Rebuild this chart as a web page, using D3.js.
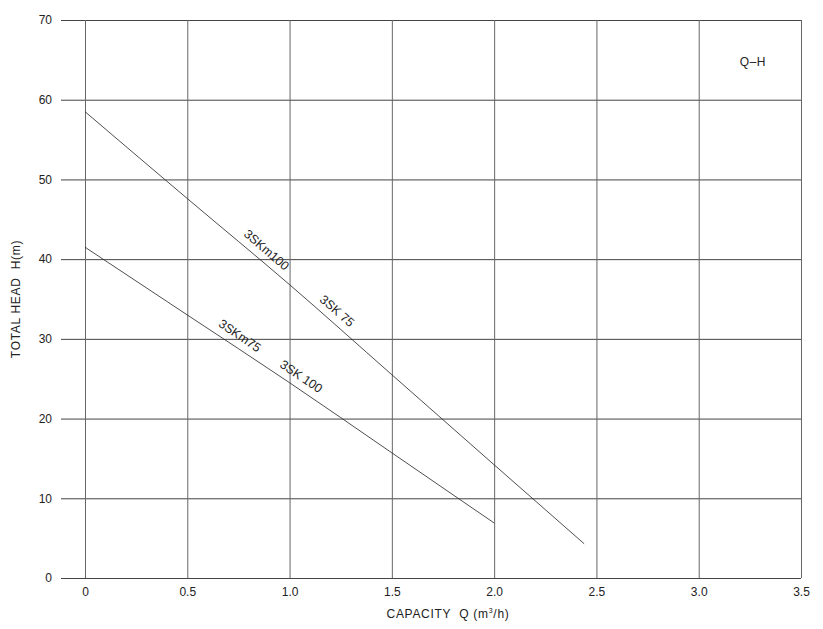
<!DOCTYPE html>
<html>
<head>
<meta charset="utf-8">
<script src="https://cdn.jsdelivr.net/npm/d3@7"></script>
<style>
  body { margin: 0; background: #fff; }
  text { font-family: "Liberation Sans", Arial, sans-serif; fill: #222; }
</style>
</head>
<body>
<div id="chart"></div>
<script>
// Q-H curves
var qUpper = [0, 0.5, 1.0, 1.5, 2.0, 2.44];
var hUpper = [58.5, 47.6, 36.8, 25.5, 14.2, 4.3];
var qLower = [0, 0.5, 1.0, 1.5, 2.0];
var hLower = [41.5, 33.0, 24.5, 15.7, 6.9];

var xTicks = [0, 0.5, 1.0, 1.5, 2.0, 2.5, 3.0, 3.5];
var yTicks = [0, 10, 20, 30, 40, 50, 60, 70];

// curve labels: name, position along the curve (Q), which curve
var labelNames = ["3SKm100", "3SK 75", "3SKm75", "3SK 100"];
var labelQ = [0.85, 1.195, 0.725, 1.025];
var labelCurve = ["upper", "upper", "lower", "lower"];

var margin = { top: 20, right: 22, bottom: 51, left: 85 },
  width = 823 - margin.left - margin.right,
  height = 629 - margin.top - margin.bottom;

var x = d3.scaleLinear().domain([0, 3.5]).range([0, width]);
var y = d3.scaleLinear().domain([0, 70]).range([height, 0]);

var svg = d3
  .select("#chart")
  .append("svg")
  .attr("width", width + margin.left + margin.right)
  .attr("height", height + margin.top + margin.bottom)
  .append("g")
  .attr("transform", "translate(" + margin.left + "," + margin.top + ")");

// horizontal grid + left ticks
var yAxis = svg
  .append("g")
  .call(d3.axisLeft(y).tickValues(yTicks).tickSize(-width).tickSizeOuter(0));
yAxis.select(".domain").remove();
yAxis.selectAll(".tick line").attr("x1", -24).attr("stroke", "#444");
yAxis.selectAll(".tick text").attr("font-size", 12).attr("fill", "#222").attr("x", -33);

// vertical grid
var xAxis = svg
  .append("g")
  .attr("transform", "translate(0," + height + ")")
  .call(
    d3.axisBottom(x).tickValues(xTicks).tickSize(-height).tickPadding(9)
      .tickFormat(function (d) { return d === 0 ? "0" : d3.format(".1f")(d); })
  );
xAxis.select(".domain").remove();
xAxis.selectAll(".tick line").attr("stroke", "#666");
xAxis.selectAll(".tick text").attr("font-size", 12).attr("fill", "#222");

// axis titles
svg
  .append("text")
  .attr("transform", "translate(" + -65 + "," + height / 2 + ") rotate(-90)")
  .attr("text-anchor", "middle")
  .attr("font-size", 12)
  .attr("letter-spacing", 0.7)
  .text("TOTAL HEAD\u00a0 H(m)");

var xt = svg
  .append("text")
  .attr("x", width / 2 + 5)
  .attr("y", height + 40)
  .attr("text-anchor", "middle")
  .attr("font-size", 12)
  .attr("letter-spacing", 0.7);
xt.append("tspan").text("CAPACITY\u00a0 Q (m");
xt.append("tspan").attr("font-size", 7).attr("dy", -5).text("3");
xt.append("tspan").attr("dy", 5).text("/h)");

svg
  .append("text")
  .attr("x", x(3.265))
  .attr("y", y(64.2))
  .attr("text-anchor", "middle")
  .attr("font-size", 12)
  .attr("letter-spacing", 0.5)
  .text("Q\u2013H");

// curves
var line = d3
  .line()
  .x(function (d) { return x(d[0]); })
  .y(function (d) { return y(d[1]); })
  .curve(d3.curveMonotoneX);

var curves = { upper: d3.zip(qUpper, hUpper), lower: d3.zip(qLower, hLower) };

svg.append("path").datum(curves.upper).attr("fill", "none").attr("stroke", "#222").attr("stroke-width", 0.8).attr("d", line);
svg.append("path").datum(curves.lower).attr("fill", "none").attr("stroke", "#222").attr("stroke-width", 0.8).attr("d", line);

// labels sit just above their curve, turned along it
function slopeAngle(pts) {
  var a = pts[0], b = pts[pts.length - 1];
  var dx = x(b[0]) - x(a[0]), dy = y(b[1]) - y(a[1]);
  return Math.atan2(dy, dx) * 180 / Math.PI;
}
function hAt(pts, q) {
  var qs = pts.map(function (p) { return p[0]; });
  var hs = pts.map(function (p) { return p[1]; });
  return d3.scaleLinear().domain(qs).range(hs)(q);
}

svg
  .selectAll(".curve-label")
  .data(labelNames)
  .enter()
  .append("text")
  .attr("class", "curve-label")
  .attr("font-size", 12.5)
  .attr("text-anchor", "middle")
  .attr("dy", "-0.6em")
  .attr("transform", function (d, i) {
    var pts = curves[labelCurve[i]];
    return "translate(" + x(labelQ[i]) + "," + y(hAt(pts, labelQ[i])) + ") rotate(" + slopeAngle(pts) + ")";
  })
  .text(function (d) { return d; });
</script>
</body>
</html>
